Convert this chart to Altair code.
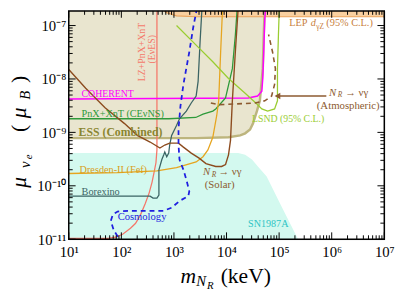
import altair as alt
import pandas as pd

FONT = "Liberation Serif"
W, H = 322, 233
X_DOMAIN = [10, 1e7]
Y_DOMAIN = [1e-11, 1.88e-7]

# ---------------- regions ----------------
ess_x = [10, 2643, 1.09e4, 1.82e4, 2.26e4, 2.8e4, 3.18e4, 3.78e4, 4.3e4, 4.89e4, 5.1e4, 5.33e4]
ess_y = [7.8e-10, 7.8e-10, 8.1e-10, 8.8e-10, 9.6e-10, 1.13e-9, 1.46e-9, 2.5e-9, 3.9e-9, 1.56e-8, 6.6e-8, 2.2e-7]
sn_x = [10, 1.67e4, 2.26e4, 3.05e4, 3.95e4, 5.8e4, 1.1e5, 2.39e5]
sn_y = [4.1e-10, 4.1e-10, 3.8e-10, 3.1e-10, 2.3e-10, 1.5e-10, 4.2e-11, 9.2e-12]
lep_x = [541, 730, 1120, 2643, 1e7]
lep_y = [2.2e-7, 1.73e-7, 1.52e-7, 1.46e-7, 1.46e-7]

# ---------------- curves ----------------
coherent_x = [10, 2.57e4, 3.9e4, 4.69e4, 4.89e4, 5.1e4, 5.33e4, 5.56e4]
coherent_y = [4.2e-9, 4.4e-9, 4.8e-9, 5.9e-9, 1.02e-8, 3.2e-8, 1.3e-7, 2.2e-7]
cevns_x = [10, 800, 2600, 3571, 5485, 6234, 9577, 1.29e4, 1.47e4, 1.6e4]
cevns_y = [1.8e-9, 1.8e-9, 1.9e-9, 2.2e-9, 2.5e-9, 2.75e-9, 4.4e-9, 1.56e-8, 6.6e-8, 2.2e-7]
dresden_x = [10, 85, 475, 1120, 2643, 3571, 4426, 5485, 6500, 7091, 7729, 8420]
dresden_y = [1.7e-10, 1.77e-10, 1.9e-10, 2.2e-10, 2.8e-10, 3.5e-10, 4.7e-10, 8.1e-10, 2.05e-9, 3.9e-9, 3.2e-8, 2.2e-7]
borexino_x = [10, 352, 400, 475, 518, 518, 589, 641, 670, 730, 796, 830, 904, 1120, 1275, 1722, 2134, 2643, 2882, 3140, 3420]
borexino_y = [6.4e-11, 6.4e-11, 5.9e-11, 5.9e-11, 6.7e-11, 2.0e-10, 3.1e-10, 3.8e-10, 4.3e-10, 3.5e-10, 4.1e-10,
              5.8e-10, 8.8e-10, 1.34e-9, 1.8e-9, 2.5e-9, 3.55e-9, 4.8e-9, 9e-9, 4.9e-8, 2.2e-7]
cosmo_x = [106, 72, 63, 69, 85, 149, 352, 641, 904, 1275, 1877, 1958, 1722, 1514, 1275, 1222, 1222, 1330, 1514, 1958, 2325, 2760]
cosmo_y = [8.1e-12, 1.46e-11, 2.2e-11, 2.9e-11, 3.3e-11, 3.4e-11, 3.4e-11, 3.4e-11, 3.9e-11, 5.2e-11, 6.4e-11, 7.9e-11,
           1.3e-10, 2.0e-10, 3.1e-10, 5.8e-10, 1.18e-9, 3.1e-9, 7.9e-9, 3.2e-8, 9.2e-8, 2.2e-7]
solar_x = [10, 21, 49, 115, 201, 352, 541, 670, 830, 1222, 1514, 2134, 3008, 4060, 6234, 8068, 9577, 1.09e4, 1.19e4, 1.29e4, 1.47e4, 1.67e4]
solar_y = [1.5e-8, 6.7e-9, 2.9e-9, 1.46e-9, 8.8e-10, 6.6e-10, 5.1e-10, 5.8e-10, 6.3e-10, 6.3e-10, 5.3e-10, 4.1e-10,
           3.3e-10, 2.6e-10, 2.3e-10, 2.3e-10, 2.5e-10, 3.8e-10, 7.1e-10, 3.9e-9, 3.2e-8, 2.2e-7]
atm_x = [5035, 7091, 1.47e4, 3.47e4, 5.33e4, 7.2e4, 8.2e4, 8.5e4, 7.5e4, 6.3e4]
atm_y = [3.55e-9, 3.3e-9, 3.4e-9, 3.55e-9, 3.9e-9, 4.8e-9, 7.9e-9, 1.56e-8, 3.2e-8, 6.8e-8]
lsnd_x = [1120, 2643, 5485, 1.09e4, 2.26e4, 3.78e4, 4.69e4, 6.05e4, 8.2e4, 9.3e4, 9.3e4, 9.7e4, 1.01e5]
lsnd_y = [1e-7, 4.3e-8, 2.1e-8, 1.02e-8, 5.4e-9, 3.4e-9, 2.75e-9, 2.5e-9, 2.75e-9, 3.9e-9, 1.56e-8, 6.6e-8, 2.2e-7]
lz_x = [10, 56, 78, 106, 149, 185, 229, 284, 337, 383, 418, 455, 475, 475]
lz_y = [1.04e-11, 1.04e-11, 1.09e-11, 1.24e-11, 1.6e-11, 1.97e-11, 2.8e-11, 4.6e-11, 7.3e-11, 1.16e-10, 1.77e-10,
        2.7e-10, 4.7e-10, 2.2e-7]
arrow_x = [7.9e5, 9.3e4]
arrow_y = [4.8e-9, 4.8e-9]

# ---------------- axis ticks ----------------
x_major = [10, 1e2, 1e3, 1e4, 1e5, 1e6, 1e7]
x_minor = [k * 10.0 ** d for d in range(1, 7) for k in range(2, 10)]
y_major = [1e-11, 1e-10, 1e-9, 1e-8, 1e-7]
y_minor = [k * 10.0 ** d for d in range(-11, -7) for k in range(2, 10)]

xs = alt.Scale(type="log", domain=X_DOMAIN, nice=False)
ys = alt.Scale(type="log", domain=Y_DOMAIN, nice=False)
xaxis = alt.Axis(values=x_major, ticks=False, domain=False, grid=False, labelFlush=False, labelOverlap=False,
                 labelFont=FONT, labelFontSize=15, labelColor="black", labelPadding=6,
                 labelExpr="'10' + ['⁰','¹','²','³','⁴','⁵','⁶','⁷'][round(log(datum.value)/LN10)]")
yaxis = alt.Axis(values=y_major, ticks=False, domain=False, grid=False, labelFlush=False, labelOverlap=False,
                 labelFont=FONT, labelFontSize=15, labelColor="black", labelPadding=3,
                 labelExpr="'10' + ['⁻¹¹','⁻¹⁰','⁻⁹','⁻⁸','⁻⁷'][round(log(datum.value)/LN10) + 11]")


def X(f):
    return alt.X(f"{f}:Q", scale=xs, axis=xaxis, title=None)


def Y(f):
    return alt.Y(f"{f}:Q", scale=ys, axis=yaxis, title=None)


def curve(xv, yv, color, width=1.3, dash=None):
    df = pd.DataFrame({"x": xv, "y": yv, "i": list(range(len(xv)))})
    kw = dict(color=color, strokeWidth=width, clip=True)
    if dash:
        kw["strokeDash"] = dash
    return alt.Chart(df).mark_line(**kw).encode(x=X("x"), y=Y("y"), order="i:Q")


def area(xv, yv, y2, color):
    df = pd.DataFrame({"x": xv, "y": yv, "y2": [y2] * len(xv)})
    return alt.Chart(df).mark_area(color=color, clip=True, opacity=1).encode(x=X("x"), y=Y("y"), y2="y2:Q")


def label(text, x, y, color, size, style=None, weight=None, align="left", angle=None):
    df = pd.DataFrame({"x": [x], "y": [y], "t": [text]})
    kw = dict(font=FONT, fontSize=size, color=color, align=align, baseline="alphabetic")
    if style:
        kw["fontStyle"] = style
    if weight:
        kw["fontWeight"] = weight
    if angle:
        kw["angle"] = angle
    return alt.Chart(df).mark_text(**kw).encode(x=X("x"), y=Y("y"), text="t:N")


def plabel(text, px, py, size, style=None, align="center", angle=None):
    df = pd.DataFrame({"t": [text]})
    kw = dict(font=FONT, fontSize=size, color="black", align=align, baseline="alphabetic")
    if style:
        kw["fontStyle"] = style
    if angle:
        kw["angle"] = angle
    return alt.Chart(df).mark_text(**kw).encode(x=alt.value(px), y=alt.value(py), text="t:N")


def xticks(vals, length):
    df = pd.DataFrame({"v": vals})
    b = alt.Chart(df).mark_rule(color="black", strokeWidth=1).encode(x=X("v"), y=alt.value(H), y2=alt.value(H - length))
    t = alt.Chart(df).mark_rule(color="black", strokeWidth=1).encode(x=X("v"), y=alt.value(0), y2=alt.value(length))
    return [b, t]


def yticks(vals, length):
    df = pd.DataFrame({"v": vals})
    l = alt.Chart(df).mark_rule(color="black", strokeWidth=1).encode(y=Y("v"), x=alt.value(0), x2=alt.value(length))
    r = alt.Chart(df).mark_rule(color="black", strokeWidth=1).encode(y=Y("v"), x=alt.value(W), x2=alt.value(W - length))
    return [l, r]


BROWN = "#8c4b1e"
BROWN2 = "#8c5a30"

layers = [
    area(ess_x, ess_y, 3e-7, "#e9e5cf"),
    area(sn_x, sn_y, 5e-12, "#d3f9ef"),
    area(lep_x, lep_y, 3e-7, "#f9cf9f"),
    curve(ess_x, ess_y, "#bdb57e", 2.5),
    curve(lep_x, lep_y, "#eba25a", 1.2),
    curve(lz_x, lz_y, "#f4786a", 1.3),
    curve(coherent_x, coherent_y, "#ff00ff", 1.5),
    curve(cevns_x, cevns_y, "#2e9a3a", 1.3),
    curve(dresden_x, dresden_y, "#e6a520", 1.3),
    curve(borexino_x, borexino_y, "#3b6464", 1.3),
    curve(lsnd_x, lsnd_y, "#9acd32", 1.3),
    curve(solar_x, solar_y, BROWN, 1.4),
    curve(atm_x, atm_y, BROWN2, 1.6, [5, 4]),
    curve(cosmo_x, cosmo_y, "#1f1fe0", 1.8, [5, 4]),
    curve(arrow_x, arrow_y, BROWN2, 1.6),
    alt.Chart(pd.DataFrame({"x": [arrow_x[1]], "y": [arrow_y[1]]})).mark_point(
        shape="triangle-left", filled=True, size=45, color=BROWN2, opacity=1).encode(x=X("x"), y=Y("y")),
    # labels
    label("COHERENT", 17.5, 4.6e-9, "#ff00ff", 10),
    label("PnX+XnT   (CEνNS)", 17.5, 1.97e-9, "#2e9a3a", 10.4),
    label("ESS (Combined)", 15.4, 8.45e-10, "#8a8530", 12, weight="bold"),
    label("Dresden-II (Fef)", 16, 1.77e-10, "#d99e1a", 10.5),
    label("Borexino", 17.5, 6.7e-11, "#3b6464", 10.5),
    label("Cosmology", 85, 2.3e-11, "#1f1fe0", 10.8),
    label("SN1987A", 2.57e4, 1.73e-11, "#2ec4c4", 10.3),
    label("LSND (95% C.L.)", 3.05e4, 1.59e-9, "#9acd32", 10),
    label("LZ+PnX+XnT", 284, 3.2e-8, "#f4786a", 10, align="center", angle=270),
    label("(EνES)", 436, 3.6e-8, "#f4786a", 10, align="center", angle=270),
    label("N", 3571, 1.6e-10, BROWN2, 11, style="italic"),
    label("R", 5250, 1.48e-10, BROWN2, 7.5, style="italic"),
    label("→ νγ", 7000, 1.6e-10, BROWN2, 11),
    label("(Solar)", 7400, 9.2e-11, BROWN2, 11, align="center"),
    label("N", 8.9e5, 4.75e-9, BROWN2, 11, style="italic"),
    label("R", 1.3e6, 4.5e-9, BROWN2, 7.5, style="italic"),
    label("→ νγ", 1.8e6, 4.75e-9, BROWN2, 11),
    label("(Atmospheric)", 5.2e5, 2.72e-9, BROWN2, 11),
    label("LEP", 1.56e5, 9.6e-8, "#c8803c", 10.5),
    label("d", 4.0e5, 9.6e-8, "#c8803c", 10.5, style="italic"),
    label("γZ", 5.07e5, 8.8e-8, "#c8803c", 7.5),
    label("(95% C.L.)", 7.9e5, 9.6e-8, "#c8803c", 10.5),
    # axis titles
    plabel("m", 122, 278, 22, style="italic"),
    plabel("N", 130, 281, 15, style="italic", align="left"),
    plabel("R", 141, 284, 11, style="italic", align="left"),
    plabel("(keV)", 155, 278, 22, align="left"),
    plabel("μ", -44, 175, 22, style="italic", angle=270),
    plabel("ν", -40, 157, 15, style="italic", angle=270),
    plabel("e", -37, 149, 11, style="italic", angle=270),
    plabel("(", -44, 120, 22, angle=270),
    plabel("μ", -44, 104, 22, style="italic", angle=270),
    plabel("B", -40, 86, 15, style="italic", angle=270),
    plabel(")", -44, 70, 22, angle=270),
]
layers += xticks(x_major, 7) + xticks(x_minor, 4) + yticks(y_major, 7) + yticks(y_minor, 4)
layers.append(
    alt.Chart(pd.DataFrame({"a": [0]})).mark_rect(filled=False, stroke="black", strokeWidth=1.5).encode(
        x=alt.value(0), x2=alt.value(W), y=alt.value(0), y2=alt.value(H))
)

chart = alt.layer(*layers).properties(
    width=W, height=H,
    autosize=alt.AutoSizeParams(type="none"),
    padding={"left": 62, "top": 0, "right": 15, "bottom": 56},
).configure_view(stroke="transparent").configure(background="white")

chart.save("out.html", embed_options={"renderer": "svg", "actions": False})
